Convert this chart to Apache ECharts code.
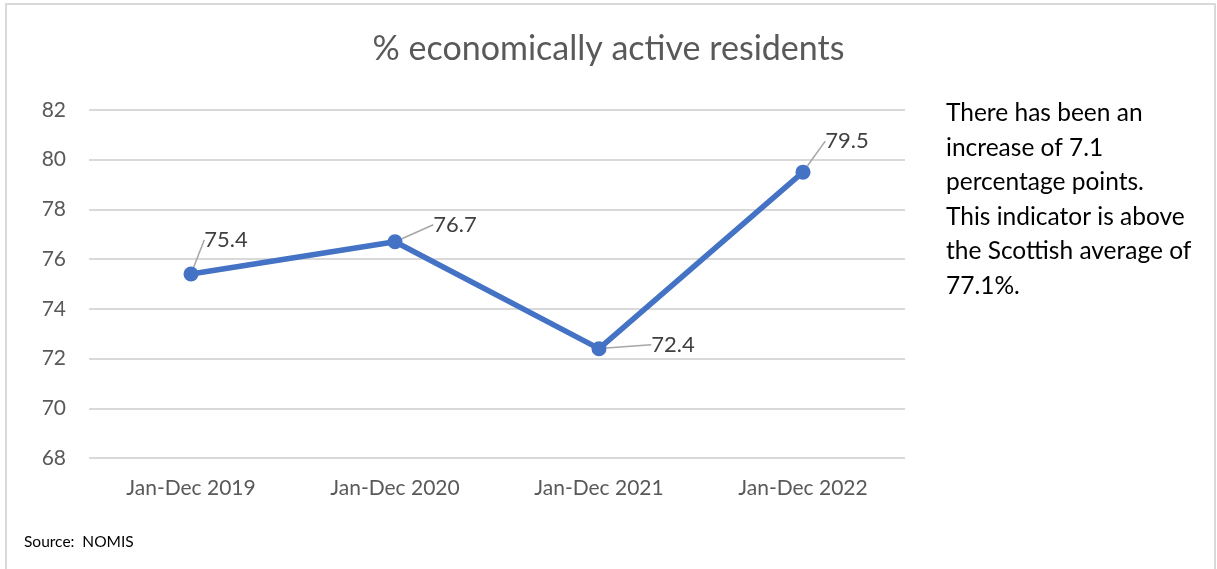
<!DOCTYPE html>
<html>
<head>
<meta charset="utf-8">
<script src="https://cdn.jsdelivr.net/npm/echarts@6/dist/echarts.min.js"></script>
<style>
  html, body { margin: 0; padding: 0; background: #fff; }
  #chart { width: 1217px; height: 569px; }
</style>
</head>
<body>
<div id="chart"></div>
<script>
// data
const categories = ["Jan-Dec 2019", "Jan-Dec 2020", "Jan-Dec 2021", "Jan-Dec 2022"];
const activeRate = [75.4, 76.7, 72.4, 79.5];
const yTicks = [68, 70, 72, 74, 76, 78, 80, 82];
const titleText = "% economically active residents";
const noteText = "There has been an\nincrease of 7.1\npercentage points.\nThis indicator is above\nthe Scottish average of\n77.1%.";
const sourceText = "Source:  NOMIS";

const FONT = "Lato, 'Open Sans', sans-serif";
const chart = echarts.init(document.getElementById("chart"));

// where each data label sits relative to its point (like the Excel leader lines)
const labelShift = [
  { dx: 35, dy: -34 },
  { dx: 60, dy: -17 },
  { dx: 74, dy: -4 },
  { dx: 44, dy: -31 },
];

chart.setOption({
  animation: false,
  title: {
    text: titleText,
    left: "center",
    top: 27,
    textStyle: { fontFamily: FONT, fontSize: 34, fontWeight: "normal", color: "#595959" },
  },
  grid: { left: 89, right: 312, top: 110, bottom: 111 },
  xAxis: {
    type: "category",
    data: categories,
    axisLine: { show: false },
    axisTick: { show: false },
    axisLabel: { fontFamily: FONT, fontSize: 21, color: "#595959", margin: 20 },
  },
  yAxis: {
    type: "value",
    min: yTicks[0],
    max: yTicks[yTicks.length - 1],
    interval: 2,
    axisLabel: { fontFamily: FONT, fontSize: 21, color: "#595959", margin: 23 },
    splitLine: { lineStyle: { color: "#d9d9d9", width: 2 } },
  },
  series: [
    {
      type: "line",
      data: activeRate,
      symbol: "circle",
      symbolSize: 15,
      lineStyle: { color: "#4472c4", width: 5.5 },
      itemStyle: { color: "#4472c4" },
      label: {
        show: true,
        position: "inside",
        fontFamily: FONT,
        fontSize: 22,
        color: "#404040",
      },
      labelLine: { show: true, lineStyle: { color: "#a6a6a6", width: 1.5 } },
      labelLayout: (p) => {
        const s = labelShift[p.dataIndex];
        return { dx: s.dx, dy: s.dy };
      },
    },
  ],
  graphic: [
    {
      type: "text",
      left: 946,
      top: 96,
      style: {
        text: noteText,
        fontFamily: FONT,
        fontSize: 24.5,
        lineHeight: 34.5,
        fill: "#000",
      },
    },
    {
      type: "text",
      left: 24,
      top: 534,
      style: { text: sourceText, fontFamily: FONT, fontSize: 15.5, fill: "#000" },
    },
    {
      type: "polyline",
      shape: { points: [[6, 569], [6, 4], [1215, 4], [1215, 569]] },
      style: { stroke: "#d9d9d9", lineWidth: 2, fill: null },
      silent: true,
    },
  ],
});
</script>
</body>
</html>
